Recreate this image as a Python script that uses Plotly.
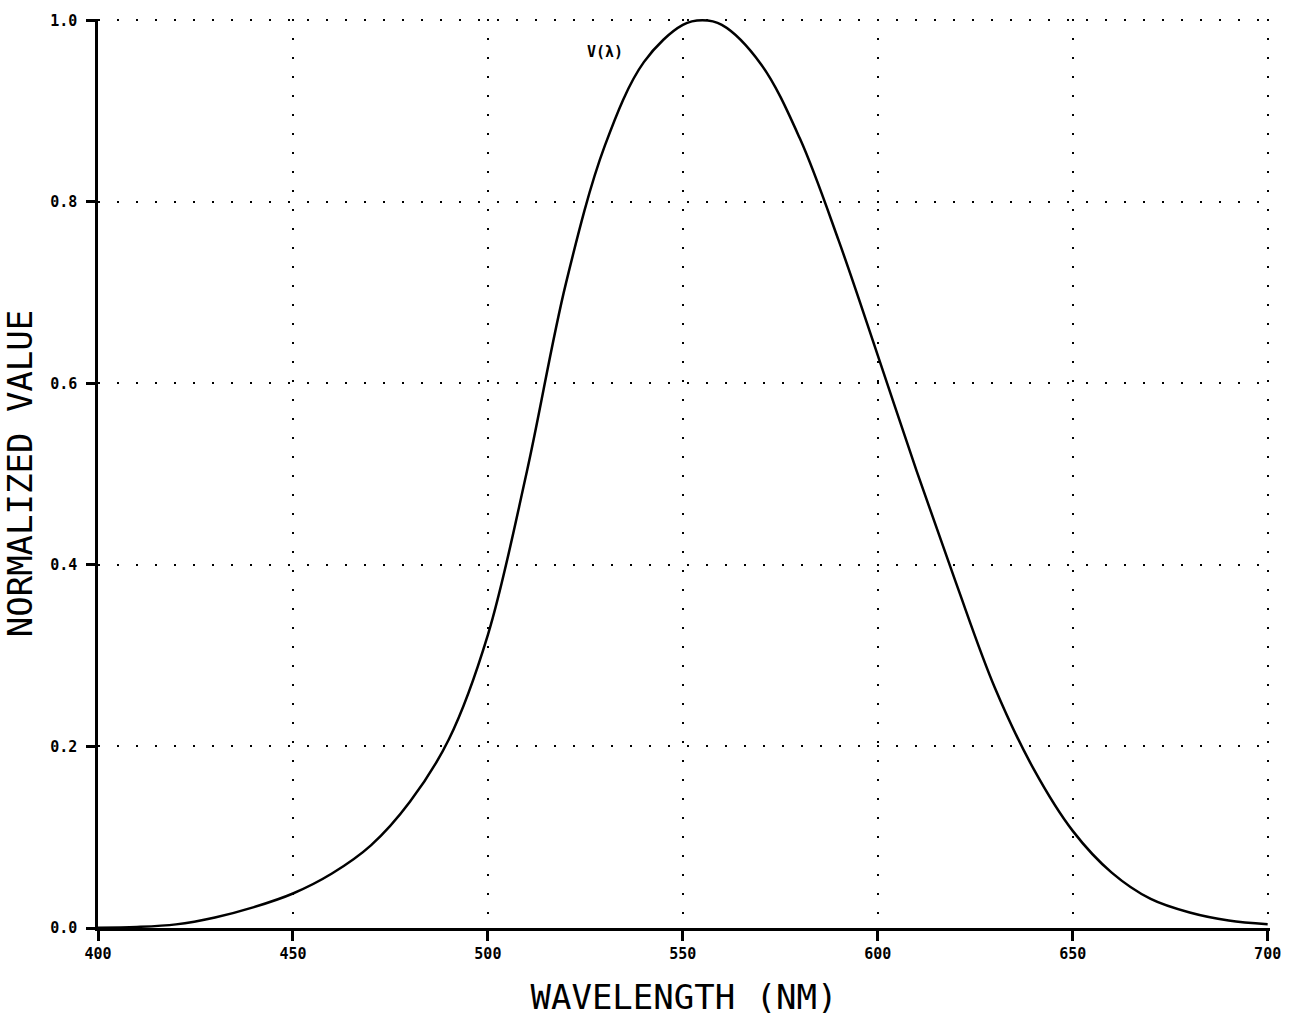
import plotly.graph_objects as go

wavelength = [400, 410, 420, 430, 440, 450, 460, 470, 480, 490, 500, 510, 520, 530,
              540, 550, 555, 560, 570, 580, 590, 600, 610, 620, 630, 640, 650, 660,
              670, 680, 690, 700]
v_lambda = [0.0004, 0.0012, 0.0040, 0.0116, 0.0230, 0.0380, 0.0600, 0.0910, 0.1390,
            0.2080, 0.3230, 0.5030, 0.7100, 0.8620, 0.9540, 0.9950, 1.0000, 0.9950,
            0.9520, 0.8700, 0.7570, 0.6310, 0.5030, 0.3810, 0.2650, 0.1750, 0.1070,
            0.0610, 0.0320, 0.0170, 0.0082, 0.0041]
x_ticks = [400, 450, 500, 550, 600, 650, 700]
y_ticks = [0.0, 0.2, 0.4, 0.6, 0.8, 1.0]
y_tick_labels = ["0.0", "0.2", "0.4", "0.6", "0.8", "1.0"]

fig = go.Figure()
fig.add_trace(go.Scatter(x=wavelength, y=v_lambda, mode="lines",
                         line=dict(color="black", width=2.5, shape="spline", smoothing=1.0),
                         showlegend=False))
fig.add_annotation(x=530, y=0.965, text="<b>V(λ)</b>", showarrow=False,
                   font=dict(family="DejaVu Sans Mono", size=15, color="black"))

fig.update_layout(
    width=1302, height=1024,
    margin=dict(l=98, r=32, t=16, b=96),
    paper_bgcolor="white", plot_bgcolor="white",
    font=dict(family="DejaVu Sans Mono", color="black"),
)
fig.update_xaxes(
    range=[400, 700.6], tickvals=x_ticks, ticktext=[str(v) for v in x_ticks],
    showline=True, linecolor="black", linewidth=2.5,
    ticks="outside", ticklen=10, tickwidth=2.5, tickcolor="black",
    tickfont=dict(family="DejaVu Sans Mono", size=15, color="black", weight="bold"),
    showgrid=True, gridcolor="black", gridwidth=2, griddash="2px,17px",
    zeroline=False,
    title=dict(text="WAVELENGTH (NM)", font=dict(family="DejaVu Sans Mono", size=34), standoff=24),
)
fig.update_yaxes(
    range=[0, 1.0015], tickvals=y_ticks, ticktext=y_tick_labels,
    showline=True, linecolor="black", linewidth=2.5,
    ticks="outside", ticklen=9, tickwidth=2.5, tickcolor="black",
    tickfont=dict(family="DejaVu Sans Mono", size=15, color="black", weight="bold"),
    ticklabelstandoff=6,
    showgrid=True, gridcolor="black", gridwidth=2, griddash="2px,17px",
    zeroline=False,
    title=dict(text="NORMALIZED VALUE", font=dict(family="DejaVu Sans Mono", size=34), standoff=10),
)

fig.write_html("out.html")
